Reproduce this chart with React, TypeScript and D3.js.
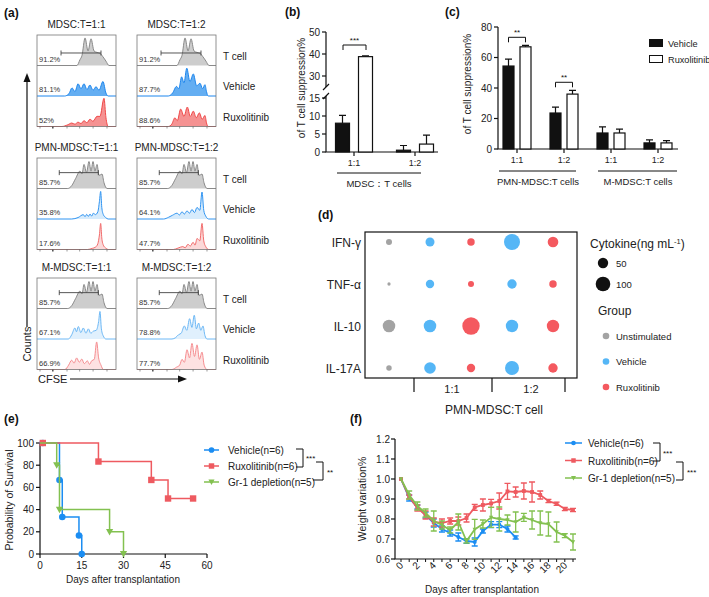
import * as d3 from 'd3'

const FONT = "'Liberation Sans', Arial, sans-serif"
const W = 709
const H = 597

// ---------- (a) CFSE histograms: [CFSE position 0-100 across box, relative count 0-1] ----------
const ROW_LABELS = ['T cell', 'Vehicle', 'Ruxolitinib']
const BLOCK_TITLES = [
  ['MDSC:T=1:1', 'MDSC:T=1:2'],
  ['PMN-MDSC:T=1:1', 'PMN-MDSC:T=1:2'],
  ['M-MDSC:T=1:1', 'M-MDSC:T=1:2'],
]
const PCT_MDSC = [['91.2%', '91.2%'], ['81.1%', '87.7%'], ['52%', '88.6%']]
const PCT_PMN = [['85.7%', '85.7%'], ['35.8%', '64.1%'], ['17.6%', '47.7%']]
const PCT_MMDSC = [['85.7%', '85.7%'], ['67.1%', '78.8%'], ['66.9%', '77.7%']]

const HIST_TCELL_A = [[50.6, 0], [54.4, 0.2], [57, 0.35], [60.8, 0.95], [64.6, 0.5], [68.4, 0.92], [72.2, 0.5], [76, 0.45], [79.7, 0.42], [83.5, 0.3], [87.3, 0.15], [91.1, 0]]
const HIST_TCELL_B = [[39, 0], [44, 0.1], [49, 0.35], [54.4, 0.6], [57, 0.5], [59.5, 0.83], [62.7, 0.55], [65.8, 0.93], [68.4, 0.6], [70.9, 0.93], [73.4, 0.6], [76, 0.83], [78.5, 0.45], [82.3, 0.5], [84.8, 0.2], [88.6, 0]]

const HIST_MDSC11_VEH = [[35, 0], [40.5, 0.08], [44.3, 0.28], [48, 0.15], [52, 0.42], [55.7, 0.25], [59.5, 0.42], [63.3, 0.22], [67, 0.38], [70.9, 0.2], [74.7, 0.32], [78.5, 0.2], [83.5, 0.5], [87.3, 0.1], [90, 0]]
const HIST_MDSC11_RUX = [[31.6, 0], [39, 0.06], [44, 0.12], [48, 0.08], [52, 0.15], [55.7, 0.1], [59.5, 0.2], [63.3, 0.13], [67, 0.25], [70.9, 0.18], [76, 0.35], [79.7, 0.35], [84.8, 0.97], [87.3, 0.3], [90, 0]]
const HIST_MDSC12_VEH = [[39.6, 0], [45, 0.1], [50, 0.33], [53, 0.25], [56.5, 0.66], [59.5, 0.45], [63, 0.96], [67, 0.5], [71.3, 0.76], [75.5, 0.35], [79.7, 0.44], [83, 0.25], [86, 0.39], [88, 0.15], [90, 0]]
const HIST_MDSC12_RUX = [[39.6, 0], [44, 0.08], [48, 0.3], [51, 0.2], [55.3, 0.6], [59.5, 0.35], [63.7, 0.67], [67.5, 0.35], [71.3, 0.53], [75, 0.3], [78.9, 0.47], [82.5, 0.25], [86, 0.38], [88, 0.12], [90, 0]]

const HIST_PMN11_VEH = [[44, 0], [52, 0.05], [58.6, 0.15], [60.8, 0.08], [62.9, 0.16], [65, 0.09], [67.1, 0.17], [69.2, 0.1], [71.3, 0.2], [74, 0.15], [77, 0.25], [79, 0.6], [80.6, 0.95], [82, 0.4], [84, 0.15], [87, 0.05], [90, 0]]
const HIST_PMN11_RUX = [[64, 0], [70, 0.04], [74, 0.08], [77, 0.2], [79, 0.5], [80.6, 0.9], [82, 0.4], [84, 0.15], [87, 0.05], [90, 0]]
const HIST_PMN12_VEH = [[33.7, 0], [40, 0.06], [45, 0.13], [50.6, 0.2], [53.8, 0.14], [57, 0.25], [60, 0.17], [63.3, 0.28], [66.5, 0.2], [69.6, 0.33], [72.8, 0.22], [76, 0.4], [79.5, 0.3], [82.3, 0.93], [84.5, 0.3], [87, 0.1], [90.7, 0]]
const HIST_PMN12_RUX = [[46, 0], [52, 0.05], [58, 0.1], [61, 0.06], [64.5, 0.18], [67.5, 0.12], [71, 0.25], [73.5, 0.15], [76, 0.38], [79.5, 0.3], [82.3, 0.9], [84.5, 0.3], [87, 0.1], [90.7, 0]]

const HIST_MM11_VEH = [[39.7, 0], [44, 0.15], [48, 0.38], [50, 0.25], [52.3, 0.43], [55.5, 0.22], [58.6, 0.38], [62, 0.2], [65, 0.35], [68, 0.2], [71.3, 0.27], [75, 0.3], [78, 0.6], [79.7, 0.95], [81.5, 0.35], [84, 0.1], [87.3, 0]]
const HIST_MM11_RUX = [[35.4, 0], [40, 0.15], [43.9, 0.32], [47, 0.22], [50.2, 0.4], [53.5, 0.25], [56.6, 0.36], [60, 0.2], [63.7, 0.3], [66.5, 0.18], [69.2, 0.3], [72.5, 0.35], [75.5, 0.95], [78, 0.4], [81, 0.15], [84, 0]]
const HIST_MM12_VEH = [[44.3, 0], [49, 0.05], [52.7, 0.15], [56, 0.2], [59.9, 0.45], [63, 0.3], [66.6, 0.7], [69.5, 0.4], [72.5, 0.82], [75.2, 0.35], [78, 0.55], [80.8, 0.3], [83.5, 0.45], [86, 0.12], [88.6, 0]]
const HIST_MM12_RUX = [[44.3, 0], [50, 0.08], [54, 0.15], [57, 0.35], [60, 0.25], [63.3, 0.68], [66.5, 0.4], [69.6, 0.9], [72.8, 0.45], [76, 0.85], [79, 0.35], [82.3, 0.6], [85, 0.15], [88.6, 0]]

const GATE_A = [30.4, 81]
const GATE_B = [28.2, 77.6]
const BOTTOM_TICKS = [3.8, 20, 38, 54, 71, 88.6]

// ---------- (b) ----------
const B_GROUPS = ['1:1', '1:2']
const B_VEHICLE = [8, 0.5]
const B_VEHICLE_ERR = [2.2, 1.3]
const B_RUXO = [38.8, 2.2]
const B_RUXO_ERR = [0.4, 2.5]

// ---------- (c) ----------
const C_GROUPS = ['1:1', '1:2', '1:1', '1:2']
const C_VEHICLE = [54.4, 23.6, 10.5, 4]
const C_VEHICLE_ERR = [4.6, 3.9, 4, 2]
const C_RUXO = [67, 36, 10.5, 4]
const C_RUXO_ERR = [1, 2.5, 2.5, 1.5]

// ---------- (d) ----------
const CYTOKINES = ['IFN-γ', 'TNF-α', 'IL-10', 'IL-17A']
const D_GROUPS = ['Unstimulated', 'Vehicle', 'Ruxolitinib', 'Vehicle', 'Ruxolitinib']
const D_VALUES = [
  [17, 38, 26, 120, 53],
  [5, 33, 17, 41, 26],
  [74, 74, 142, 72, 72],
  [14, 63, 33, 92, 41],
]
const D_SIZE_LEGEND = [50, 100]
const D_GROUP_LEGEND = ['Unstimulated', 'Vehicle', 'Ruxolitinib']

// ---------- (e) survival [day, %] ----------
const SURV_VEHICLE = [[0, 100], [7, 66.7], [8, 33.3], [14, 16.7], [15, 0]]
const SURV_RUXO = [[0, 100], [21, 83.3], [40, 66.7], [46, 50], [55, 50]]
const SURV_GR1 = [[0, 100], [6, 80], [7, 40], [25, 20], [30, 0]]
const MARK_VEHICLE = [[1, 100], [7, 66.7], [8, 33.3], [14, 16.7], [15, 0]]
const MARK_RUXO = [[1, 100], [21, 83.3], [40, 66.7], [46, 50], [55, 50]]
const MARK_GR1 = [[6, 80], [7, 40], [25, 20], [30, 0]]

// ---------- (f) weight ----------
const W_VEHICLE = [1.0, 0.905, 0.86, 0.82, 0.78, 0.75, 0.73, 0.71, 0.69, 0.685, 0.74, 0.772, 0.772, 0.75, 0.708]
const W_VEHICLE_ERR = [0, 0.015, 0.01, 0.015, 0.02, 0.015, 0.015, 0.02, 0.012, 0.02, 0.01, 0.015, 0.015, 0.015, 0.008]
const W_RUXO = [1.0, 0.91, 0.855, 0.82, 0.785, 0.78, 0.79, 0.79, 0.805, 0.858, 0.87, 0.878, 0.89, 0.938, 0.935, 0.94, 0.935, 0.92, 0.89, 0.876, 0.85, 0.845]
const W_RUXO_ERR = [0, 0.01, 0.015, 0.02, 0.02, 0.02, 0.015, 0.02, 0.02, 0.015, 0.03, 0.02, 0.04, 0.04, 0.025, 0.04, 0.05, 0.02, 0.008, 0.008, 0.008, 0.008]
const W_GR1 = [1.0, 0.92, 0.865, 0.83, 0.79, 0.77, 0.745, 0.785, 0.69, 0.748, 0.775, 0.808, 0.8, 0.795, 0.785, 0.808, 0.795, 0.78, 0.775, 0.735, 0.717, 0.685]
const W_GR1_ERR = [0, 0.02, 0.02, 0.02, 0.05, 0.02, 0.015, 0.04, 0.01, 0.05, 0.02, 0.05, 0.06, 0.025, 0.05, 0.02, 0.045, 0.06, 0.06, 0.05, 0.01, 0.04]

const BLUE = '#1b8df2'
const RED = '#ee5a60'
const GREEN = '#83c150'
const DOT_GRAY = '#a3a3a3'
const DOT_BLUE = '#55b6f6'
const DOT_RED = '#f4595f'

const BOX_W = 79
const ROW_H = 30.5
const COL_X = [37, 137]
const BLOCK_TOPS = [35, 158, 278]

function Histo({ points, x0, rowTop, fill, stroke }) {
  const x = d3.scaleLinear().domain([0, 100]).range([x0, x0 + BOX_W])
  const y = d3.scaleLinear().domain([0, 1]).range([rowTop + ROW_H, rowTop + 1.5])
  const full = [[0, 0], ...points, [100, 0]]
  const area = d3.area<number[]>().x((d) => x(d[0])).y0(y(0)).y1((d) => y(d[1])).curve(d3.curveMonotoneX)
  const line = d3.line<number[]>().x((d) => x(d[0])).y((d) => y(d[1])).curve(d3.curveMonotoneX)
  return (
    <g>
      <path d={area(full) || ''} fill={fill} />
      <path d={line(full) || ''} fill="none" stroke={stroke} strokeWidth={1} />
    </g>
  )
}

function HistBlock({ titles, top, rows, pct, gate, gateH, styles }) {
  return (
    <g>
      {COL_X.map((x0, c) => {
        const x = d3.scaleLinear().domain([0, 100]).range([x0, x0 + BOX_W])
        const gy = top + ROW_H - gateH * ROW_H
        return (
          <g key={c}>
            <text x={x0 + BOX_W / 2} y={top - 7} textAnchor="middle" fontSize={10} fill="#222">{titles[c]}</text>
            {rows.map((r, i) => (
              <Histo key={i} points={r[c]} x0={x0} rowTop={top + i * ROW_H} fill={styles[i].fill} stroke={styles[i].stroke} />
            ))}
            {pct.map((p, i) => (
              <text key={i} x={x0 + 2} y={top + (i + 1) * ROW_H - 4} fontSize={7.5} fill="#333">{p[c]}</text>
            ))}
            <rect x={x0} y={top} width={BOX_W} height={ROW_H * 3} fill="none" stroke="#777" strokeWidth={0.8} />
            <path d={`M${x(gate[0])},${gy} H${x(gate[1])} M${x(gate[0])},${gy - 2.5} V${gy + 2.5} M${x(gate[1])},${gy - 2.5} V${gy + 2.5}`} stroke="#444" strokeWidth={0.9} fill="none" />
            {BOTTOM_TICKS.map((t, i) => (
              <line key={i} x1={x(t)} x2={x(t)} y1={top + ROW_H * 3} y2={top + ROW_H * 3 + 2} stroke="#555" strokeWidth={i === 1 ? 1.6 : 0.6} />
            ))}
          </g>
        )
      })}
      {ROW_LABELS.map((l, i) => (
        <text key={l} x={223} y={top + (i + 1) * ROW_H - 6} fontSize={10} fill="#222">{l}</text>
      ))}
    </g>
  )
}

const STYLE_TOP = [
  { fill: '#cdcdcd', stroke: '#8a8a8a' },
  { fill: '#64aef2', stroke: '#1d86ee' },
  { fill: '#f59292', stroke: '#f04848' },
]
const STYLE_MID = [
  { fill: '#cdcdcd', stroke: '#8a8a8a' },
  { fill: '#d6ebfc', stroke: '#2f94f2' },
  { fill: '#fbd9d9', stroke: '#f26c6c' },
]
const STYLE_BOT = [
  { fill: '#cdcdcd', stroke: '#8a8a8a' },
  { fill: '#e0f0fd', stroke: '#6cb8f6' },
  { fill: '#fde2e2', stroke: '#f68d90' },
]

function PanelA() {
  const blocks = [
    { rows: [[HIST_TCELL_A, HIST_TCELL_A], [HIST_MDSC11_VEH, HIST_MDSC12_VEH], [HIST_MDSC11_RUX, HIST_MDSC12_RUX]], pct: PCT_MDSC, gate: GATE_A, gateH: 0.41, styles: STYLE_TOP },
    { rows: [[HIST_TCELL_B, HIST_TCELL_B], [HIST_PMN11_VEH, HIST_PMN12_VEH], [HIST_PMN11_RUX, HIST_PMN12_RUX]], pct: PCT_PMN, gate: GATE_B, gateH: 0.52, styles: STYLE_MID },
    { rows: [[HIST_TCELL_B, HIST_TCELL_B], [HIST_MM11_VEH, HIST_MM12_VEH], [HIST_MM11_RUX, HIST_MM12_RUX]], pct: PCT_MMDSC, gate: GATE_B, gateH: 0.52, styles: STYLE_BOT },
  ]
  return (
    <g>
      <text x={4} y={17} fontSize={12} fontWeight="bold" fill="#111">(a)</text>
      {blocks.map((b, i) => (
        <HistBlock key={i} titles={BLOCK_TITLES[i]} top={BLOCK_TOPS[i]} {...b} />
      ))}
      <line x1={27} x2={27} y1={327} y2={80} stroke="#111" strokeWidth={1.2} />
      <polygon points="27,73 23.5,82 30.5,82" fill="#111" />
      <text transform="translate(31,344) rotate(-90)" textAnchor="middle" fontSize={11} fill="#222">Counts</text>
      <text x={38} y={383} fontSize={11} fill="#222">CFSE</text>
      <line x1={70} x2={180} y1={379} y2={379} stroke="#111" strokeWidth={1.2} />
      <polygon points="187,379 178,375.5 178,382.5" fill="#111" />
    </g>
  )
}

function ErrBar({ x, y0, y1 }) {
  return <path d={`M${x},${y0} V${y1} M${x - 3.5},${y1} H${x + 3.5}`} stroke="#111" strokeWidth={1.2} fill="none" />
}

function PanelB() {
  const yLo = d3.scaleLinear().domain([0, 15]).range([152, 98])
  const yHi = d3.scaleLinear().domain([30, 50]).range([76, 32])
  const y = (v: number) => (v > 20 ? yHi(v) : yLo(v))
  const x = d3.scalePoint().domain(B_GROUPS).range([354, 415])
  const off = 11.5
  const bw = 14
  const ax = 326
  return (
    <g>
      <text x={285} y={16} fontSize={12} fontWeight="bold" fill="#111">(b)</text>
      <path d={`M${ax},32 V87 M${ax},96 V152 H438`} stroke="#111" strokeWidth={1.2} fill="none" />
      <path d={`M${ax - 3},90 L${ax + 3},84 M${ax - 3},99 L${ax + 3},93`} stroke="#111" strokeWidth={1.2} />
      {[0, 5, 10, 15].map((t) => (
        <g key={t}>
          <line x1={ax - 4} x2={ax} y1={yLo(t)} y2={yLo(t)} stroke="#111" strokeWidth={1.2} />
          <text x={ax - 6} y={yLo(t) + 3.5} textAnchor="end" fontSize={10} fill="#222">{t}</text>
        </g>
      ))}
      {[30, 40, 50].map((t) => (
        <g key={t}>
          <line x1={ax - 4} x2={ax} y1={yHi(t)} y2={yHi(t)} stroke="#111" strokeWidth={1.2} />
          <text x={ax - 6} y={yHi(t) + 3.5} textAnchor="end" fontSize={10} fill="#222">{t}</text>
        </g>
      ))}
      {B_GROUPS.map((g, i) => {
        const cx = x(g) as number
        return (
          <g key={g}>
            <ErrBar x={cx - off} y0={y(B_VEHICLE[i])} y1={y(B_VEHICLE[i] + B_VEHICLE_ERR[i])} />
            <ErrBar x={cx + off} y0={y(B_RUXO[i])} y1={y(B_RUXO[i] + B_RUXO_ERR[i])} />
            <rect x={cx - off - bw / 2} y={y(B_VEHICLE[i])} width={bw} height={152 - y(B_VEHICLE[i])} fill="#111" stroke="#111" strokeWidth={1.2} />
            <rect x={cx + off - bw / 2} y={y(B_RUXO[i])} width={bw} height={152 - y(B_RUXO[i])} fill="#fff" stroke="#111" strokeWidth={1.2} />
            <line x1={cx} x2={cx} y1={152} y2={156} stroke="#111" strokeWidth={1.2} />
            <text x={cx} y={166} textAnchor="middle" fontSize={9} fill="#222">{g}</text>
          </g>
        )
      })}
      <path d="M343,50 V45 H366 V50" stroke="#111" strokeWidth={1} fill="none" />
      <text x={354.5} y={43} textAnchor="middle" fontSize={8} fill="#111">***</text>
      <line x1={337} x2={421} y1={173} y2={173} stroke="#111" strokeWidth={1} />
      <text x={379} y={187} textAnchor="middle" fontSize={9.5} fill="#222">MDSC：T cells</text>
      <text transform="translate(305,88) rotate(-90)" textAnchor="middle" fontSize={10} fill="#222">of T cell suppression%</text>
    </g>
  )
}

function PanelC() {
  const y = d3.scaleLinear().domain([0, 80]).range([149, 27])
  const idx = C_GROUPS.map((_, i) => i)
  const x = d3.scalePoint<number>().domain(idx).range([517, 658])
  const off = 8.5
  const bw = 11
  const ax = 498
  return (
    <g>
      <text x={445} y={16} fontSize={12} fontWeight="bold" fill="#111">(c)</text>
      <path d={`M${ax},27 V149 H678`} stroke="#111" strokeWidth={1.2} fill="none" />
      {y.ticks(4).map((t) => (
        <g key={t}>
          <line x1={ax - 4} x2={ax} y1={y(t)} y2={y(t)} stroke="#111" strokeWidth={1.2} />
          <text x={ax - 6} y={y(t) + 3.5} textAnchor="end" fontSize={10} fill="#222">{t}</text>
        </g>
      ))}
      {idx.map((i) => {
        const cx = x(i) as number
        return (
          <g key={i}>
            <ErrBar x={cx - off} y0={y(C_VEHICLE[i])} y1={y(C_VEHICLE[i] + C_VEHICLE_ERR[i])} />
            <ErrBar x={cx + off} y0={y(C_RUXO[i])} y1={y(C_RUXO[i] + C_RUXO_ERR[i])} />
            <rect x={cx - off - bw / 2} y={y(C_VEHICLE[i])} width={bw} height={y(0) - y(C_VEHICLE[i])} fill="#111" stroke="#111" strokeWidth={1.2} />
            <rect x={cx + off - bw / 2} y={y(C_RUXO[i])} width={bw} height={y(0) - y(C_RUXO[i])} fill="#fff" stroke="#111" strokeWidth={1.2} />
            <line x1={cx} x2={cx} y1={149} y2={153} stroke="#111" strokeWidth={1.2} />
            <text x={cx} y={163} textAnchor="middle" fontSize={9} fill="#222">{C_GROUPS[i]}</text>
          </g>
        )
      })}
      {[0, 1].map((i) => {
        const cx = x(i) as number
        const top = y(Math.max(C_VEHICLE[i] + C_VEHICLE_ERR[i], C_RUXO[i] + C_RUXO_ERR[i])) - 8
        return (
          <g key={i}>
            <path d={`M${cx - off},${top + 5} V${top} H${cx + off} V${top + 5}`} stroke="#111" strokeWidth={1} fill="none" />
            <text x={cx} y={top - 2} textAnchor="middle" fontSize={8} fill="#111">**</text>
          </g>
        )
      })}
      <line x1={499} x2={576} y1={171} y2={171} stroke="#111" strokeWidth={1} />
      <line x1={598} x2={677} y1={171} y2={171} stroke="#111" strokeWidth={1} />
      <text x={538} y={185} textAnchor="middle" fontSize={9.5} fill="#222">PMN-MDSC:T cells</text>
      <text x={638} y={185} textAnchor="middle" fontSize={9.5} fill="#222">M-MDSC:T cells</text>
      <text transform="translate(471,84) rotate(-90)" textAnchor="middle" fontSize={10} fill="#222">of T cell suppression%</text>
      <rect x={649} y={39} width={14} height={8} fill="#111" />
      <text x={668} y={46.5} fontSize={9.2} fill="#222">Vehicle</text>
      <rect x={649.5} y={55.5} width={13} height={7} fill="#fff" stroke="#111" strokeWidth={1} />
      <text x={668} y={62.5} fontSize={9.2} fill="#222">Ruxolitinib</text>
    </g>
  )
}

function groupColor(g: string) {
  if (g === 'Unstimulated') return DOT_GRAY
  if (g === 'Vehicle') return DOT_BLUE
  return DOT_RED
}

function PanelD() {
  const x = d3.scalePoint<number>().domain(D_GROUPS.map((_, i) => i)).range([389, 553])
  const y = d3.scalePoint<string>().domain(CYTOKINES).range([242, 368])
  const r = d3.scaleSqrt().domain([0, 100]).range([0, 7.3])
  return (
    <g>
      <text x={318} y={219} fontSize={12} fontWeight="bold" fill="#111">(d)</text>
      <rect x={365} y={232} width={212} height={146} fill="none" stroke="#111" strokeWidth={1.2} />
      {CYTOKINES.map((c, ci) => (
        <g key={c}>
          <text x={361} y={(y(c) as number) + 4.5} textAnchor="end" fontSize={12} fill="#222">{c}</text>
          {D_VALUES[ci].map((v, gi) => (
            <circle key={gi} cx={x(gi)} cy={y(c)} r={r(v)} fill={groupColor(D_GROUPS[gi])} />
          ))}
        </g>
      ))}
      {[414, 492, 565].map((tx) => (
        <line key={tx} x1={tx} x2={tx} y1={378} y2={392} stroke="#111" strokeWidth={1.2} />
      ))}
      <text x={452} y={393} textAnchor="middle" fontSize={11} fill="#222">1:1</text>
      <text x={531} y={393} textAnchor="middle" fontSize={11} fill="#222">1:2</text>
      <text x={494} y={414} textAnchor="middle" fontSize={12} fill="#222">PMN-MDSC:T cell</text>
      <text x={590} y={248} fontSize={12} fill="#222">
        Cytokine(ng mL<tspan fontSize={7.5} dy={-4.5}>-1</tspan><tspan dy={4.5}>)</tspan>
      </text>
      {D_SIZE_LEGEND.map((v, i) => (
        <g key={v}>
          <circle cx={603} cy={263 + i * 21} r={r(v)} fill="#111" />
          <text x={616} y={267 + i * 21} fontSize={9.5} fill="#222">{v}</text>
        </g>
      ))}
      <text x={598} y={315} fontSize={12} fill="#222">Group</text>
      {D_GROUP_LEGEND.map((g, i) => (
        <g key={g}>
          <circle cx={606} cy={336 + i * 25.5} r={3.3} fill={groupColor(g)} />
          <text x={616} y={339.5 + i * 25.5} fontSize={9.5} fill="#222">{g}</text>
        </g>
      ))}
    </g>
  )
}

function Marker({ kind, x, y, color, s = 1 }) {
  if (kind === 'circle') return <circle cx={x} cy={y} r={3.3 * s} fill={color} />
  if (kind === 'square') return <rect x={x - 3.2 * s} y={y - 3.2 * s} width={6.4 * s} height={6.4 * s} fill={color} />
  const a = 3.6 * s
  return <polygon points={`${x - a},${y - a * 0.8} ${x + a},${y - a * 0.8} ${x},${y + a}`} fill={color} />
}

function PanelE() {
  const x = d3.scaleLinear().domain([0, 60]).range([40, 207])
  const y = d3.scaleLinear().domain([0, 100]).range([554, 443])
  const step = d3.line<number[]>().x((d) => x(d[0])).y((d) => y(d[1])).curve(d3.curveStepAfter)
  const series = [
    { name: 'Vehicle(n=6)', d: SURV_VEHICLE, m: MARK_VEHICLE, color: BLUE, kind: 'circle' },
    { name: 'Ruxolitinib(n=6)', d: SURV_RUXO, m: MARK_RUXO, color: RED, kind: 'square' },
    { name: 'Gr-1 depletion(n=5)', d: SURV_GR1, m: MARK_GR1, color: GREEN, kind: 'tri' },
  ]
  return (
    <g>
      <text x={4} y={423} fontSize={12} fontWeight="bold" fill="#111">(e)</text>
      <path d="M40,443 V554 H207" stroke="#111" strokeWidth={1.2} fill="none" />
      {y.ticks(5).map((t) => (
        <g key={t}>
          <line x1={36} x2={40} y1={y(t)} y2={y(t)} stroke="#111" strokeWidth={1.2} />
          <text x={34} y={y(t) + 3.5} textAnchor="end" fontSize={10} fill="#222">{t}</text>
        </g>
      ))}
      {[0, 15, 30, 45, 60].map((t) => (
        <g key={t}>
          <line x1={x(t)} x2={x(t)} y1={554} y2={558} stroke="#111" strokeWidth={1.2} />
          <text x={x(t)} y={569} textAnchor="middle" fontSize={10} fill="#222">{t}</text>
        </g>
      ))}
      <text x={123} y={583} textAnchor="middle" fontSize={10} fill="#222">Days after transplantation</text>
      <text transform="translate(13,500) rotate(-90)" textAnchor="middle" fontSize={10.5} fill="#222">Probability of Survival</text>
      {series.map((s) => (
        <g key={s.name}>
          <path d={step(s.d) || ''} fill="none" stroke={s.color} strokeWidth={1.5} />
          {s.m.map((p, i) => (
            <Marker key={i} kind={s.kind} x={x(p[0])} y={y(p[1])} color={s.color} />
          ))}
        </g>
      ))}
      {series.map((s, i) => (
        <g key={s.name}>
          <line x1={204} x2={219} y1={450 + i * 16} y2={450 + i * 16} stroke={s.color} strokeWidth={1.5} />
          <Marker kind={s.kind} x={211.5} y={450 + i * 16} color={s.color} s={0.85} />
          <text x={228} y={454 + i * 16} fontSize={10} fill="#222">{s.name}</text>
        </g>
      ))}
      <path d="M296,449 H303 V467 H296" stroke="#111" strokeWidth={1} fill="none" />
      <text x={306} y={461} fontSize={8} fill="#111">***</text>
      <path d="M316,462 H323 V480 H313" stroke="#111" strokeWidth={1} fill="none" />
      <text x={327} y={475} fontSize={8} fill="#111">**</text>
    </g>
  )
}

function PanelF() {
  const x = d3.scaleLinear().domain([0, 21]).range([401, 573])
  const y = d3.scaleLinear().domain([0.6, 1.2]).range([559, 439])
  const series = [
    { name: 'Vehicle(n=6)', d: W_VEHICLE, e: W_VEHICLE_ERR, color: BLUE, kind: 'circle' },
    { name: 'Ruxolitinib(n=6)', d: W_RUXO, e: W_RUXO_ERR, color: RED, kind: 'square' },
    { name: 'Gr-1 depletion(n=5)', d: W_GR1, e: W_GR1_ERR, color: GREEN, kind: 'tri' },
  ]
  const line = d3.line<number>().x((_, i) => x(i)).y((d) => y(d))
  const days = d3.range(0, 22)
  return (
    <g>
      <text x={350} y={423} fontSize={12} fontWeight="bold" fill="#111">(f)</text>
      <path d="M395,439 V559 H576" stroke="#111" strokeWidth={1.2} fill="none" />
      {d3.range(0.6, 1.21, 0.1).map((t) => (
        <g key={t.toFixed(1)}>
          <line x1={391} x2={395} y1={y(t)} y2={y(t)} stroke="#111" strokeWidth={1.2} />
          <text x={390} y={y(t) + 3.5} textAnchor="end" fontSize={10} fill="#222">{t.toFixed(1)}</text>
        </g>
      ))}
      {days.map((d) => (
        <g key={d}>
          <line x1={x(d)} x2={x(d)} y1={559} y2={562} stroke="#111" strokeWidth={1} />
          {d % 2 === 0 && (
            <text transform={`translate(${x(d) + 3},${566}) rotate(-45)`} textAnchor="end" fontSize={10} fill="#222">{d}</text>
          )}
        </g>
      ))}
      <text x={482} y={593} textAnchor="middle" fontSize={10} fill="#222">Days after transplantation</text>
      <text transform="translate(366,499) rotate(-90)" textAnchor="middle" fontSize={10.5} fill="#222">Weight  variation%</text>
      {series.map((s) => (
        <g key={s.name}>
          {s.d.map((v, i) => (
            s.e[i] > 0 ? (
              <path key={i} d={`M${x(i)},${y(v - s.e[i])} V${y(v + s.e[i])} M${x(i) - 3},${y(v - s.e[i])} H${x(i) + 3} M${x(i) - 3},${y(v + s.e[i])} H${x(i) + 3}`} stroke={s.color} strokeWidth={1.3} fill="none" />
            ) : null
          ))}
          <path d={line(s.d) || ''} fill="none" stroke={s.color} strokeWidth={1.8} />
          {s.d.map((v, i) => (
            <Marker key={i} kind={s.kind} x={x(i)} y={y(v)} color={s.color} s={0.6} />
          ))}
        </g>
      ))}
      {series.map((s, i) => (
        <g key={s.name}>
          <line x1={565} x2={582} y1={443 + i * 17.5} y2={443 + i * 17.5} stroke={s.color} strokeWidth={1.5} />
          <Marker kind={s.kind} x={573.5} y={443 + i * 17.5} color={s.color} s={0.7} />
          <text x={588} y={447 + i * 17.5} fontSize={10} fill="#222">{s.name}</text>
        </g>
      ))}
      <path d="M653,443 H660 V461 H653" stroke="#111" strokeWidth={1} fill="none" />
      <text x={663} y={456} fontSize={8} fill="#111">***</text>
      <path d="M676,462 H683 V480 H676" stroke="#111" strokeWidth={1} fill="none" />
      <text x={687} y={475} fontSize={8} fill="#111">***</text>
    </g>
  )
}

export default function App() {
  return (
    <svg width={W} height={H} viewBox={`0 0 ${W} ${H}`} fontFamily={FONT} style={{ position: 'absolute', left: 0, top: 0, background: '#fff' }}>
      <rect width={W} height={H} fill="#fff" />
      <PanelA />
      <PanelB />
      <PanelC />
      <PanelD />
      <PanelE />
      <PanelF />
    </svg>
  )
}
